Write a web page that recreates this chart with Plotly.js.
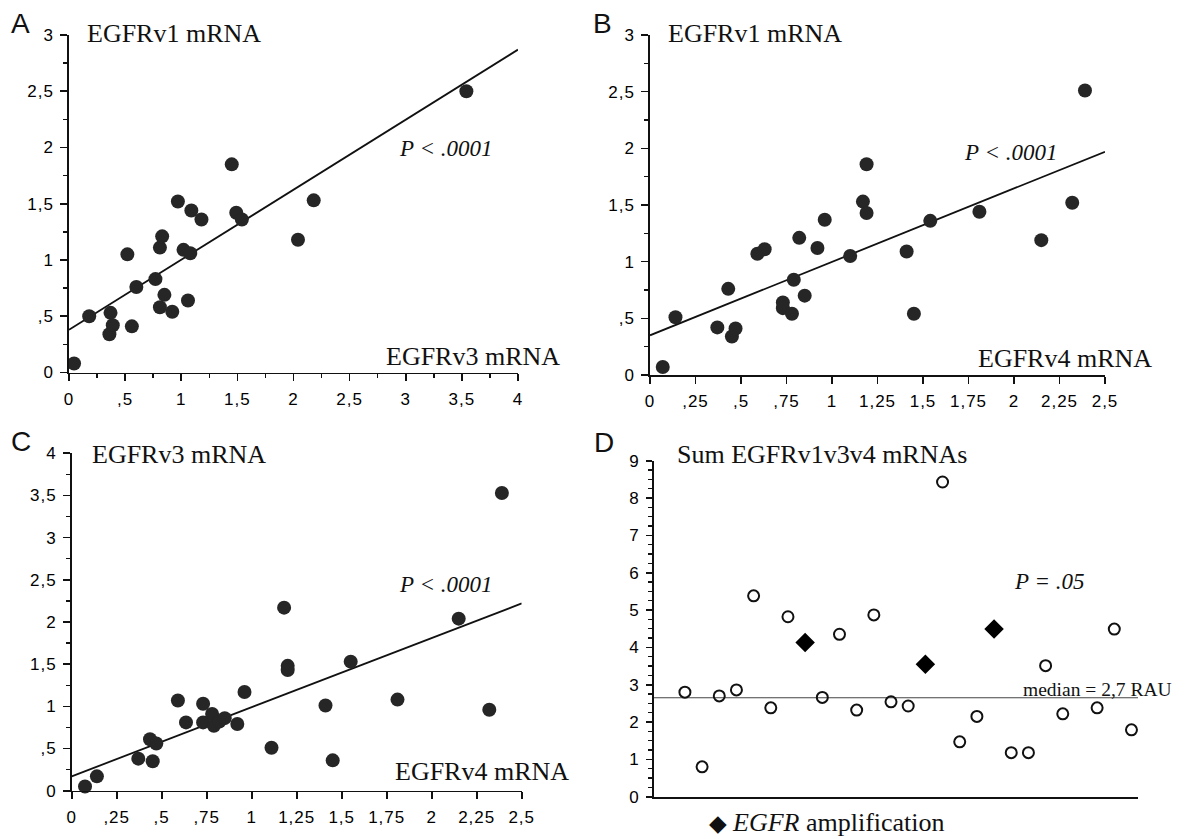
<!DOCTYPE html>
<html>
<head>
<meta charset="utf-8">
<script src="https://cdn.plot.ly/plotly-3.0.1.min.js"></script>
<style>
html,body{margin:0;padding:0;background:#fff;}
#chart{width:1189px;height:839px;}
.xtick text, .ytick text, .x2tick text, .y2tick text, .x3tick text, .y3tick text, .y4tick text {letter-spacing:1px;}
</style>
</head>
<body>
<div id="chart"></div>
<script>
// ---------- DATA ----------
// Panel A: EGFRv3 (x) vs EGFRv1 (y)
const A_v3 = [0.045,0.18,0.37,0.39,0.36,0.56,0.52,0.60,0.77,0.81,0.83,0.81,0.85,0.92,0.97,1.02,1.08,1.06,1.09,1.18,1.45,1.49,1.54,2.04,2.18,3.54];
const A_v1 = [0.08,0.50,0.53,0.42,0.34,0.41,1.05,0.76,0.83,1.11,1.21,0.58,0.69,0.54,1.52,1.09,1.06,0.64,1.44,1.36,1.85,1.42,1.36,1.18,1.53,2.50];
const A_fitX = [0, 4];
const A_fitY = [0.38, 2.87];
// Panel B: EGFRv4 (x) vs EGFRv1 (y)
const B_v4 = [0.07,0.14,0.37,0.43,0.45,0.47,0.59,0.63,0.73,0.73,0.78,0.79,0.82,0.85,0.92,0.96,1.10,1.17,1.19,1.19,1.41,1.45,1.54,1.81,2.15,2.32,2.39];
const B_v1 = [0.07,0.51,0.42,0.76,0.34,0.41,1.07,1.11,0.64,0.59,0.54,0.84,1.21,0.70,1.12,1.37,1.05,1.53,1.43,1.86,1.09,0.54,1.36,1.44,1.19,1.52,2.51];
const B_fitX = [0, 2.5];
const B_fitY = [0.35, 1.97];
// Panel C: EGFRv4 (x) vs EGFRv3 (y)
const C_v4 = [0.074,0.14,0.37,0.435,0.47,0.45,0.59,0.635,0.73,0.73,0.78,0.79,0.82,0.85,0.92,0.96,1.11,1.18,1.20,1.20,1.41,1.45,1.55,1.81,2.15,2.32,2.39];
const C_v3 = [0.05,0.17,0.38,0.61,0.56,0.35,1.07,0.81,1.03,0.81,0.91,0.77,0.82,0.86,0.79,1.17,0.51,2.17,1.48,1.43,1.01,0.36,1.53,1.08,2.04,0.96,3.53];
const C_fitX = [0, 2.5];
const C_fitY = [0.17, 2.22];
// Panel D: sum of EGFRv1v3v4 mRNAs per sample
const D_sampleNoAmp = [1,2,3,4,5,6,7,9,10,11,12,13,14,16,17,18,20,21,22,23,25,26,27];
const D_sumNoAmp    = [2.80,0.80,2.70,2.86,5.38,2.38,4.82,2.66,4.35,2.32,4.87,2.54,2.43,8.43,1.47,2.15,1.18,1.18,3.51,2.22,2.38,4.49,1.79];
const D_sampleAmp = [8,15,19];
const D_sumAmp    = [4.13,3.55,4.49];
const D_median = 2.65;
const D_xRange = [-0.8, 27.38];

// Tick values / labels
const A_xTicks = [0,0.5,1,1.5,2,2.5,3,3.5,4];
const A_xLabels = ["0",",5","1","1,5","2","2,5","3","3,5","4"];
const y3Ticks = [0,0.5,1,1.5,2,2.5,3];
const y3Labels = ["0",",5","1","1,5","2","2,5","3"];
const x25Ticks = [0,0.25,0.5,0.75,1,1.25,1.5,1.75,2,2.25,2.5];
const x25Labels = ["0",",25",",5",",75","1","1,25","1,5","1,75","2","2,25","2,5"];
const y4Ticks = [0,0.5,1,1.5,2,2.5,3,3.5,4];
const y4Labels = ["0",",5","1","1,5","2","2,5","3","3,5","4"];
const y9Ticks = [0,1,2,3,4,5,6,7,8,9];
const y9Labels = ["0","1","2","3","4","5","6","7","8","9"];

// ---------- LAYOUT HELPERS ----------
const W = 1189, H = 839;
const px = x => x / W;
const py = y => 1 - y / H;
const SANS = "Liberation Sans, Arial, sans-serif";
const SERIF = "Liberation Serif, Times New Roman, serif";
const DOT = "#262626";

function minorVals(max, step) {
  const v = [];
  for (let i = 0; i * step <= max + 1e-9; i++) v.push(+(i * step).toFixed(4));
  return v;
}

function axis(dom, anchor, range, tv, tt, minorDt, extra) {
  const a = {
    domain: dom, anchor: anchor, range: range, fixedrange: true,
    showgrid: false, zeroline: false, showline: true, linecolor: "#111", linewidth: 1.7,
    ticks: "outside", ticklen: 7, tickwidth: 1.6, tickcolor: "#111",
    tickmode: "array", tickvals: tv, ticktext: tt, ticklabelstandoff: 3,
    tickfont: {family: SANS, size: 17, color: "#000"}
  };
  if (minorDt) a.minor = {tickmode: "array", tickvals: minorVals(range[1], minorDt), ticks: "outside", ticklen: 4, tickwidth: 1.5, tickcolor: "#111", showgrid: false};
  return Object.assign(a, extra || {});
}

const dotMarker = {size: 14, color: DOT, line: {width: 0}};
const fitLine = {color: "#111", width: 1.8};

const traces = [
  {x: A_fitX, y: A_fitY, xaxis: "x", yaxis: "y", mode: "lines", line: fitLine, hoverinfo: "skip"},
  {x: A_v3, y: A_v1, xaxis: "x", yaxis: "y", mode: "markers", marker: dotMarker, cliponaxis: false},
  {x: B_fitX, y: B_fitY, xaxis: "x2", yaxis: "y2", mode: "lines", line: fitLine, hoverinfo: "skip"},
  {x: B_v4, y: B_v1, xaxis: "x2", yaxis: "y2", mode: "markers", marker: dotMarker, cliponaxis: false},
  {x: C_fitX, y: C_fitY, xaxis: "x3", yaxis: "y3", mode: "lines", line: fitLine, hoverinfo: "skip"},
  {x: C_v4, y: C_v3, xaxis: "x3", yaxis: "y3", mode: "markers", marker: dotMarker, cliponaxis: false},
  {x: D_xRange, y: [D_median, D_median], xaxis: "x4", yaxis: "y4", mode: "lines", line: {color: "#444", width: 1.1}, hoverinfo: "skip"},
  {x: D_sampleNoAmp, y: D_sumNoAmp, xaxis: "x4", yaxis: "y4", mode: "markers", cliponaxis: false,
   marker: {symbol: "circle-open", size: 11, color: "#111", line: {width: 2, color: "#111"}}},
  {x: D_sampleAmp, y: D_sumAmp, xaxis: "x4", yaxis: "y4", mode: "markers", cliponaxis: false,
   marker: {symbol: "diamond", size: 15, color: "#000", line: {width: 0}}}
];

function ann(text, x, y, size, family, xanchor, extra) {
  return Object.assign({text: text, xref: "paper", yref: "paper", x: px(x), y: py(y),
    xanchor: xanchor || "left", yanchor: "middle", showarrow: false,
    font: {family: family, size: size, color: "#111"}}, extra || {});
}

const annotations = [
  ann("A", 9, 24, 28, SANS), ann("B", 591, 24, 28, SANS),
  ann("C", 9, 441, 28, SANS), ann("D", 592, 442, 28, SANS),
  ann("EGFRv1 mRNA", 85, 34, 26, SERIF),
  ann("EGFRv1 mRNA", 666, 34, 26, SERIF),
  ann("EGFRv3 mRNA", 90, 454, 26, SERIF),
  ann("Sum EGFRv1v3v4 mRNAs", 675, 454, 26, SERIF),
  ann("EGFRv3 mRNA", 384, 356, 26, SERIF),
  ann("EGFRv4 mRNA", 976, 358, 26, SERIF),
  ann("EGFRv4 mRNA", 393, 771, 26, SERIF),
  ann("<i>P &lt; .0001</i>", 397, 149, 23, SERIF),
  ann("<i>P &lt; .0001</i>", 962, 153, 23, SERIF),
  ann("<i>P &lt; .0001</i>", 397, 584, 23, SERIF),
  ann("<i>P = .05</i>", 1012, 581, 23, SERIF),
  ann("median = 2,7 RAU", 1021, 689, 19.5, SERIF),
  ann("◆", 707, 823, 23, "DejaVu Sans, sans-serif"),
  ann("<i>EGFR</i> amplification", 730, 822, 26, SERIF)
];

const layout = {
  width: W, height: H, margin: {l: 0, r: 0, t: 0, b: 0},
  paper_bgcolor: "#fff", plot_bgcolor: "rgba(0,0,0,0)", showlegend: false,
  xaxis:  axis([px(69), px(518)], "y",  [0, 4],   A_xTicks, A_xLabels, 0.25),
  yaxis:  axis([py(372.5), py(35)], "x", [0, 3],  y3Ticks, y3Labels, 0.25),
  xaxis2: axis([px(650), px(1105)], "y2", [0, 2.5], x25Ticks, x25Labels, null),
  yaxis2: axis([py(375), py(35)], "x2", [0, 3],   y3Ticks, y3Labels, 0.25),
  xaxis3: axis([px(71.7), px(521.7)], "y3", [0, 2.5], x25Ticks, x25Labels, null),
  yaxis3: axis([py(790.7), py(453.3)], "x3", [0, 4], y4Ticks, y4Labels, 0.25),
  xaxis4: axis([px(654), px(1138)], "y4", D_xRange, [], [], null, {ticks: "", showticklabels: false, linewidth: 2.2}),
  yaxis4: axis([py(796.7), py(460.7)], "x4", [0, 9], y9Ticks, y9Labels, 0.25, {ticklen: 6, linewidth: 2}),
  annotations: annotations
};

Plotly.newPlot("chart", traces, layout, {staticPlot: true, displayModeBar: false});
</script>
</body>
</html>
